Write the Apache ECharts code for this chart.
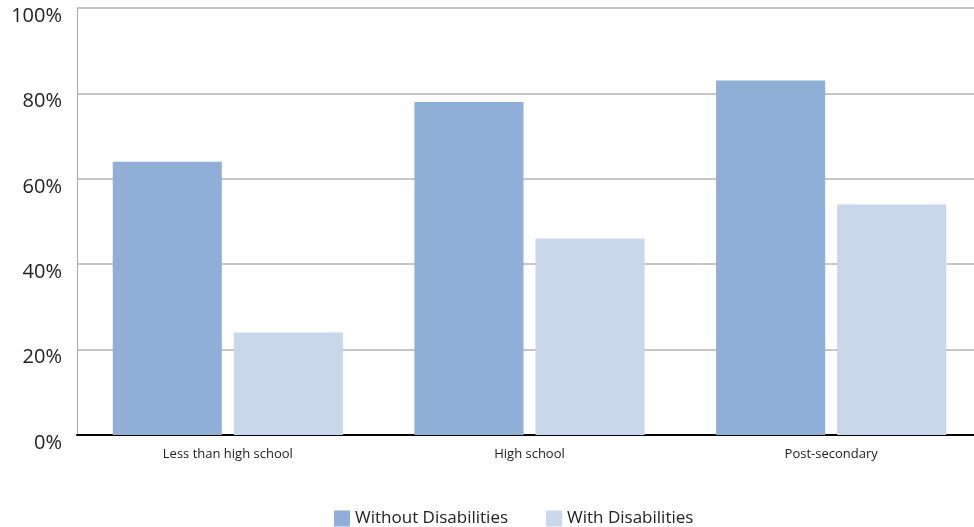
<!DOCTYPE html>
<html><head><meta charset="utf-8">
<script src="https://cdn.jsdelivr.net/npm/echarts@6/dist/echarts.min.js"></script>
<style>html,body{margin:0;padding:0;background:#fff}#c{width:974px;height:527px}</style>
</head><body><div id="c"></div>
<script>
const categories = ['Less than high school', 'High school', 'Post-secondary'];
const withoutDisabilities = [64, 78, 83];
const withDisabilities = [24, 46, 54];
const seriesNames = ['Without Disabilities', 'With Disabilities'];

const chart = echarts.init(document.getElementById('c'));
chart.setOption({
  animation: false,
  textStyle: { fontFamily: 'Open Sans' },
  grid: { left: 77, width: 905, top: 8, height: 427, outerBoundsMode: 'none', containLabel: false },
  legend: {
    top: 505, left: 329, itemWidth: 16, itemHeight: 16, itemGap: 38,
    icon: 'rect',
    textStyle: { fontSize: 17, color: '#222', fontFamily: 'Open Sans' },
    data: seriesNames
  },
  xAxis: {
    type: 'category', data: categories,
    axisLine: { lineStyle: { color: '#000', width: 2 } },
    axisTick: { inside: true, length: 10, lineStyle: { color: '#333' } },
    axisLabel: { fontSize: 13, color: '#222', margin: 13 },
  },
  yAxis: {
    type: 'value', min: 0, max: 100, interval: 20,
    axisLine: { show: true, lineStyle: { color: '#aaa', width: 1 } },
    axisTick: { show: false },
    axisLabel: { formatter: '{value}%', fontSize: 20, color: '#222', margin: 15, verticalAlign: 'top', lineHeight: 16 },
    splitLine: { lineStyle: { color: '#b3b3b3', width: 1.5 } }
  },
  series: [
    { name: seriesNames[0], type: 'bar', data: withoutDisabilities, barGap: '11%', barCategoryGap: '23.7%', itemStyle: { color: '#8fafd6' } },
    { name: seriesNames[1], type: 'bar', data: withDisabilities, itemStyle: { color: '#c9d7ea' } }
  ]
});
</script></body></html>
